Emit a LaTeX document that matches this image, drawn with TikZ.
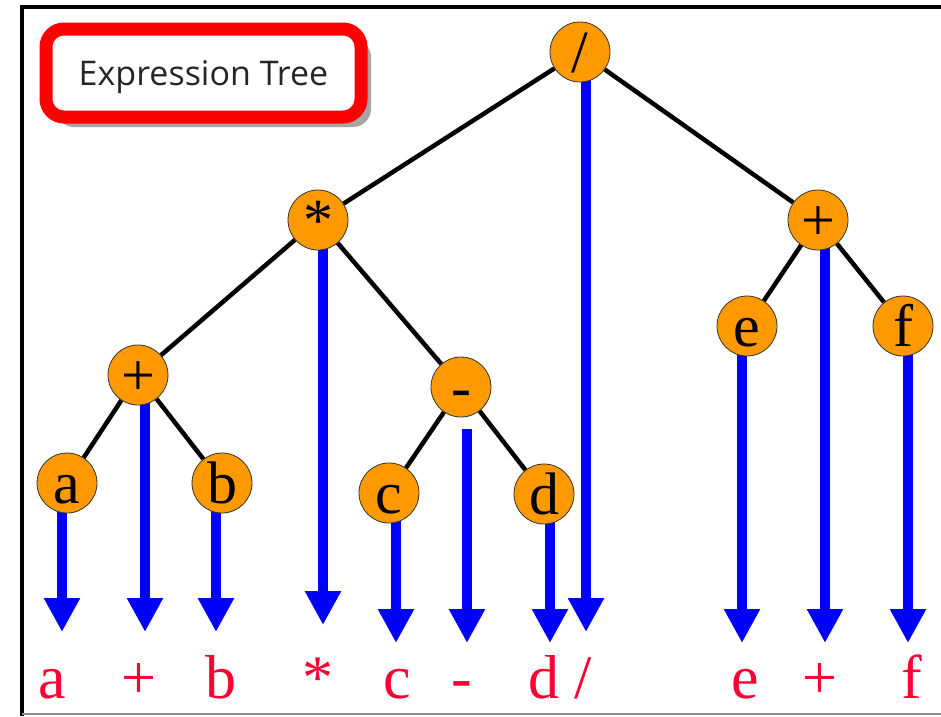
\documentclass[tikz,border=0pt]{standalone}
\usepackage{fontspec}
\setmainfont{Liberation Serif}
\newfontfamily\titlefont{Open Sans}
\usetikzlibrary{arrows.meta,shadows,backgrounds}
\definecolor{nodeorange}{HTML}{FF9900}
\definecolor{labelred}{HTML}{FF0033}
\definecolor{flowblue}{HTML}{0000FF}
\definecolor{boxred}{HTML}{FF0000}
\begin{document}
\begin{tikzpicture}[x=1pt,y=-1pt,
  opnode/.style={circle, draw=black!80, line width=0.8pt, fill=nodeorange, minimum size=60pt, inner sep=0pt, font=\fontsize{60}{60}\selectfont, text height=41pt, text depth=0pt},
  branch/.style={line width=4.5pt, black},
  flow/.style={line width=10pt, flowblue, -{Triangle[width=34pt,length=34pt]}},
  outlabel/.style={anchor=base, text=labelred, inner sep=0pt, font=\fontsize{62}{62}\selectfont},
  titlebox/.style={draw=boxred, line width=13pt, rounded corners=18pt, fill=white, text=black!85, minimum width=315pt, minimum height=88pt, text depth=0pt, font=\titlefont\fontsize{34}{34}\selectfont, drop shadow={shadow xshift=10pt, shadow yshift=-10pt, opacity=0.5, fill=black!70}}]
\useasboundingbox (0,0) rectangle (941,716);
\draw[line width=4pt] (941,7) -- (22,7) -- (22,716);
\draw[black!45, line width=2pt] (22,714) -- (941,714);
\node[titlebox] (title) at (203.5,73) {Expression Tree};
\node[opnode] (div) at (580,52) {/};
\node[opnode] (mul) at (318,220) {*};
\node[opnode] (addr) at (818,220) {+};
\node[opnode] (addl) at (138,375) {+};
\node[opnode] (sub) at (461,387) {-};
\node[opnode] (a) at (67,483) {a};
\node[opnode] (b) at (222,483) {b};
\node[opnode] (c) at (389,493) {c};
\node[opnode] (d) at (544,494) {d};
\node[opnode] (e) at (747,326) {e};
\node[opnode] (f) at (903,326) {f};
\draw[branch] (div) -- (mul);
\draw[branch] (div) -- (addr);
\draw[branch] (mul) -- (addl);
\draw[branch] (mul) -- (sub);
\draw[branch] (addl) -- (a);
\draw[branch] (addl) -- (b);
\draw[branch] (sub) -- (c);
\draw[branch] (sub) -- (d);
\draw[branch] (addr) -- (e);
\draw[branch] (addr) -- (f);
\coordinate (ta) at (62,632);
\coordinate (taddl) at (145,632);
\coordinate (tb) at (216,632);
\coordinate (tmul) at (323,625);
\coordinate (tc) at (396,643);
\coordinate (tsub) at (467,643);
\coordinate (td) at (550,643);
\coordinate (tdiv) at (586,632);
\coordinate (te) at (742,643);
\coordinate (taddr) at (825,643);
\coordinate (tf) at (908,643);
\begin{scope}[on background layer]
\fill[white] (0,0) rectangle (941,716);
\draw[flow] (ta |- a) -- (ta);
\draw[flow] (taddl |- addl) -- (taddl);
\draw[flow] (tb |- b) -- (tb);
\draw[flow] (tmul |- mul) -- (tmul);
\draw[flow] (tc |- c) -- (tc);
\draw[flow, shorten <=12pt] (tsub |- sub.south) -- (tsub);
\draw[flow] (td |- d) -- (td);
\draw[flow] (tdiv |- div) -- (tdiv);
\draw[flow] (te |- e) -- (te);
\draw[flow] (taddr |- addr) -- (taddr);
\draw[flow] (tf |- f) -- (tf);
\end{scope}
\node[outlabel] (la) at (52,698) {a};
\node[outlabel] (laddl) at (139,698) {+};
\node[outlabel] (lb) at (221,698) {b};
\node[outlabel] (lmul) at (318,698) {*};
\node[outlabel] (lc) at (397,698) {c};
\node[outlabel] (lsub) at (462,698) {-};
\node[outlabel] (ld) at (544,698) {d};
\node[outlabel] (ldiv) at (583,698) {/};
\node[outlabel] (le) at (745,698) {e};
\node[outlabel] (laddr) at (820,698) {+};
\node[outlabel] (lf) at (912,698) {f};
\end{tikzpicture}
\end{document}
